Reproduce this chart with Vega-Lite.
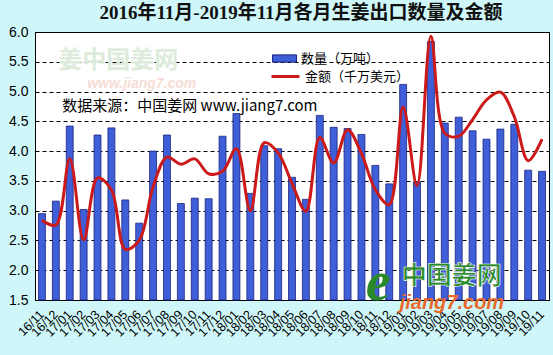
{
  "$schema": "https://vega.github.io/schema/vega-lite/v6.json",
  "width": 514,
  "height": 268,
  "autosize": {"type": "none"},
  "padding": {"left": 35, "top": 32, "right": 4, "bottom": 55},
  "background": "#CFF7F9",
  "view": {"fill": "white", "stroke": "black", "strokeWidth": 1},
  "title": {
    "text": "2016年11月-2019年11月各月生姜出口数量及金额",
    "font": "Liberation Serif, Noto Sans CJK SC",
    "fontSize": 19,
    "fontWeight": "bold",
    "color": "#111111",
    "anchor": "middle",
    "dx": 9,
    "offset": 2
  },
  "config": {
    "view": {"fill": "white", "stroke": "black", "strokeWidth": 1},
    "axis": {"labelFont": "Liberation Sans", "labelColor": "black", "domainColor": "black", "title": null, "labelOverlap": false}
  },
  "datasets": {
    "main": [
      {"month": "16/11", "q": 2.95, "a": 2.84},
      {"month": "16/12", "q": 3.16, "a": 2.76},
      {"month": "17/01", "q": 4.42, "a": 3.87},
      {"month": "17/02", "q": 3.02, "a": 2.51},
      {"month": "17/03", "q": 4.27, "a": 3.55},
      {"month": "17/04", "q": 4.39, "a": 3.35},
      {"month": "17/05", "q": 3.18, "a": 2.35},
      {"month": "17/06", "q": 2.79, "a": 2.5},
      {"month": "17/07", "q": 4.0, "a": 3.4},
      {"month": "17/08", "q": 4.27, "a": 3.9},
      {"month": "17/09", "q": 3.12, "a": 3.78},
      {"month": "17/10", "q": 3.21, "a": 3.87},
      {"month": "17/11", "q": 3.2, "a": 3.62},
      {"month": "17/12", "q": 4.25, "a": 3.66},
      {"month": "18/01", "q": 4.63, "a": 4.04},
      {"month": "18/02", "q": 3.29, "a": 3.0},
      {"month": "18/03", "q": 4.09, "a": 4.14},
      {"month": "18/04", "q": 4.04, "a": 3.97},
      {"month": "18/05", "q": 3.56, "a": 3.46},
      {"month": "18/06", "q": 3.19, "a": 2.99},
      {"month": "18/07", "q": 4.6, "a": 4.23},
      {"month": "18/08", "q": 4.4, "a": 3.8},
      {"month": "18/09", "q": 4.38, "a": 4.36},
      {"month": "18/10", "q": 4.28, "a": 3.96},
      {"month": "18/11", "q": 3.76, "a": 3.35},
      {"month": "18/12", "q": 3.45, "a": 3.1},
      {"month": "19/01", "q": 5.12, "a": 4.74},
      {"month": "19/02", "q": 3.48, "a": 3.42},
      {"month": "19/03", "q": 5.84, "a": 5.93},
      {"month": "19/04", "q": 4.47, "a": 4.3},
      {"month": "19/05", "q": 4.57, "a": 4.25},
      {"month": "19/06", "q": 4.34, "a": 4.53},
      {"month": "19/07", "q": 4.2, "a": 4.86},
      {"month": "19/08", "q": 4.37, "a": 4.99},
      {"month": "19/09", "q": 4.45, "a": 4.58},
      {"month": "19/10", "q": 3.68, "a": 3.84},
      {"month": "19/11", "q": 3.66, "a": 4.2}
    ]
  },
  "encoding": {
    "x": {
      "field": "month", "type": "ordinal", "sort": null,
      "scale": {
        "domain": ["16/11","16/12","17/01","17/02","17/03","17/04","17/05","17/06","17/07","17/08","17/09","17/10","17/11","17/12","18/01","18/02","18/03","18/04","18/05","18/06","18/07","18/08","18/09","18/10","18/11","18/12","19/01","19/02","19/03","19/04","19/05","19/06","19/07","19/08","19/09","19/10","19/11"],
        "paddingInner": 0.5, "paddingOuter": 0.25
      },
      "axis": {"labelAngle": -45, "labelFontSize": 12.5, "ticks": false, "labelPadding": 12, "domain": true, "labelAlign": "right", "labelBaseline": "middle"}
    }
  },
  "layer": [
    {
      "data": {"name": "main"},
      "mark": {"type": "text", "text": "姜中国姜网", "font": "Noto Sans CJK SC", "fontSize": 24, "fontWeight": "bold", "color": "#DCEBDA", "align": "left", "baseline": "middle", "dx": 6},
      "transform": [{"filter": "datum.month === '16/12'"}],
      "encoding": {"x": {"field": "month", "type": "ordinal", "sort": null, "bandPosition": 0}, "y": {"datum": 5.52, "type": "quantitative", "axis": {"values": [1.5, 2.0, 2.5, 3.0, 3.5, 4.0, 4.5, 5.0, 5.5, 6.0], "format": ".1f", "labelFontSize": 14, "ticks": false, "labelPadding": 7, "grid": true, "gridColor": "black", "gridDash": [4, 3], "gridOpacity": 1, "gridWidth": 1, "labelOverlap": false}}}
    },
    {
      "data": {"name": "main"},
      "mark": {"type": "text", "text": "www.jiang7.com", "font": "Liberation Sans", "fontSize": 14, "fontStyle": "italic", "fontWeight": "bold", "color": "#F6DDD4", "align": "left", "baseline": "middle", "dx": 7},
      "transform": [{"filter": "datum.month === '17/02'"}],
      "encoding": {"x": {"field": "month", "type": "ordinal", "sort": null, "bandPosition": 0}, "y": {"datum": 5.12, "type": "quantitative", "axis": {"values": [1.5, 2.0, 2.5, 3.0, 3.5, 4.0, 4.5, 5.0, 5.5, 6.0], "format": ".1f", "labelFontSize": 14, "ticks": false, "labelPadding": 7, "grid": true, "gridColor": "black", "gridDash": [4, 3], "gridOpacity": 1, "gridWidth": 1, "labelOverlap": false}}}
    },
    {
      "data": {"name": "main"},
      "mark": {"type": "bar", "stroke": "#1A237E", "strokeWidth": 0.8},
      "encoding": {
        "y": {
          "field": "q", "type": "quantitative",
          "scale": {"domain": [1.5, 6.0], "zero": false, "nice": false},
          "axis": {"values": [1.5, 2.0, 2.5, 3.0, 3.5, 4.0, 4.5, 5.0, 5.5, 6.0], "format": ".1f", "labelFontSize": 14, "ticks": false, "labelPadding": 7, "grid": true, "gridColor": "black", "gridDash": [4, 3], "gridOpacity": 1, "gridWidth": 1, "labelOverlap": false}
        },
        "y2": {"datum": 1.5},
        "fill": {
          "datum": "数量（万吨）",
          "scale": {"range": ["#3F5FD8"]},
          "legend": {"orient": "none", "legendX": 237, "legendY": 14, "title": null, "symbolType": "M-1,-0.3H1V0.3H-1Z", "symbolSize": 576, "symbolStrokeColor": "#1A237E", "symbolStrokeWidth": 1, "symbolFillColor": "#3F5FD8", "labelFont": "Noto Sans CJK SC", "labelFontSize": 13, "labelColor": "black", "labelOffset": 4, "padding": 0}
        }
      }
    },
    {
      "data": {"name": "main"},
      "mark": {"type": "line", "interpolate": "catmull-rom", "strokeWidth": 3},
      "encoding": {
        "y": {"field": "a", "type": "quantitative", "axis": {"values": [1.5, 2.0, 2.5, 3.0, 3.5, 4.0, 4.5, 5.0, 5.5, 6.0], "format": ".1f", "labelFontSize": 14, "ticks": false, "labelPadding": 7, "grid": true, "gridColor": "black", "gridDash": [4, 3], "gridOpacity": 1, "gridWidth": 1, "labelOverlap": false}},
        "stroke": {
          "datum": "金额（千万美元）",
          "scale": {"range": ["#CC1A1A"]},
          "legend": {"orient": "none", "legendX": 235, "legendY": 29, "title": null, "symbolType": "stroke", "symbolSize": 784, "symbolStrokeWidth": 3, "labelFont": "Noto Sans CJK SC", "labelFontSize": 13, "labelColor": "black", "labelOffset": 4, "padding": 0}
        }
      }
    },
    {
      "data": {"name": "main"},
      "mark": {"type": "text", "text": "数据来源：中国姜网 www.jiang7.com", "font": "Noto Sans CJK SC", "fontSize": 15, "color": "black", "align": "left", "baseline": "middle", "dx": -4},
      "transform": [{"filter": "datum.month === '17/01'"}],
      "encoding": {"x": {"field": "month", "type": "ordinal", "sort": null, "bandPosition": 0}, "y": {"datum": 4.75, "type": "quantitative", "axis": {"values": [1.5, 2.0, 2.5, 3.0, 3.5, 4.0, 4.5, 5.0, 5.5, 6.0], "format": ".1f", "labelFontSize": 14, "ticks": false, "labelPadding": 7, "grid": true, "gridColor": "black", "gridDash": [4, 3], "gridOpacity": 1, "gridWidth": 1, "labelOverlap": false}}}
    },
    {
      "data": {"name": "main"},
      "mark": {"type": "text", "text": "中国姜网", "font": "Noto Sans CJK SC", "fontSize": 25, "fontWeight": "bold", "color": "#2A8A2A", "stroke": "white", "strokeWidth": 0.6, "align": "left", "baseline": "middle", "dx": 2},
      "transform": [{"filter": "datum.month === '19/01'"}],
      "encoding": {"x": {"field": "month", "type": "ordinal", "sort": null, "bandPosition": 0}, "y": {"datum": 1.9, "type": "quantitative", "axis": {"values": [1.5, 2.0, 2.5, 3.0, 3.5, 4.0, 4.5, 5.0, 5.5, 6.0], "format": ".1f", "labelFontSize": 14, "ticks": false, "labelPadding": 7, "grid": true, "gridColor": "black", "gridDash": [4, 3], "gridOpacity": 1, "gridWidth": 1, "labelOverlap": false}}}
    },
    {
      "data": {"name": "main"},
      "mark": {"type": "text", "text": "jiang7.com", "font": "Liberation Sans", "fontSize": 20, "fontWeight": "bold", "fontStyle": "italic", "color": "#E8692A", "align": "left", "baseline": "middle", "clip": false, "dx": 0},
      "transform": [{"filter": "datum.month === '19/01'"}],
      "encoding": {"x": {"field": "month", "type": "ordinal", "sort": null, "bandPosition": 0}, "y": {"datum": 1.45, "type": "quantitative", "axis": {"values": [1.5, 2.0, 2.5, 3.0, 3.5, 4.0, 4.5, 5.0, 5.5, 6.0], "format": ".1f", "labelFontSize": 14, "ticks": false, "labelPadding": 7, "grid": true, "gridColor": "black", "gridDash": [4, 3], "gridOpacity": 1, "gridWidth": 1, "labelOverlap": false}}}
    },
    {
      "data": {"name": "main"},
      "mark": {"type": "text", "text": "e", "font": "Liberation Serif", "fontSize": 56, "fontWeight": "bold", "fontStyle": "italic", "color": "#2A8A2A", "align": "left", "baseline": "alphabetic", "dx": -34},
      "transform": [{"filter": "datum.month === '19/01'"}],
      "encoding": {"x": {"field": "month", "type": "ordinal", "sort": null, "bandPosition": 0}, "y": {"datum": 1.5, "type": "quantitative", "axis": {"values": [1.5, 2.0, 2.5, 3.0, 3.5, 4.0, 4.5, 5.0, 5.5, 6.0], "format": ".1f", "labelFontSize": 14, "ticks": false, "labelPadding": 7, "grid": true, "gridColor": "black", "gridDash": [4, 3], "gridOpacity": 1, "gridWidth": 1, "labelOverlap": false}}}
    }
  ]
}
